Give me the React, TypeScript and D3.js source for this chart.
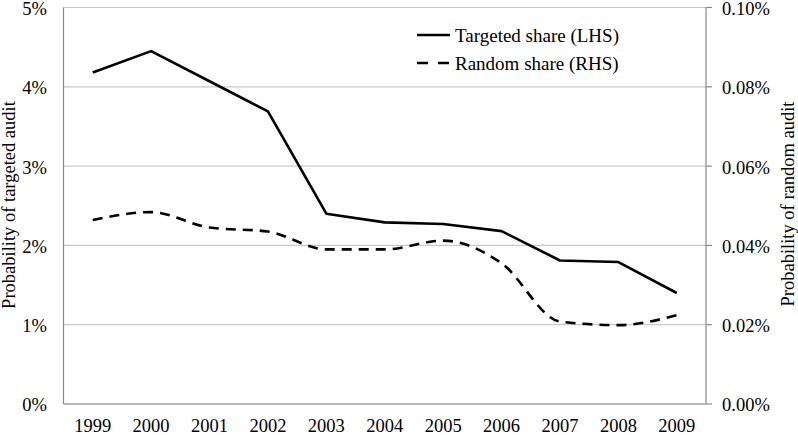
import React from "react";
import * as d3 from "d3";

const years = ["1999", "2000", "2001", "2002", "2003", "2004", "2005", "2006", "2007", "2008", "2009"];
const targetedShare = [4.18, 4.45, 4.07, 3.69, 2.4, 2.29, 2.27, 2.18, 1.81, 1.79, 1.4];
const randomShare = [0.0464, 0.0484, 0.0445, 0.0435, 0.039, 0.039, 0.0412, 0.0355, 0.0208, 0.0199, 0.0224];
const leftTicks = [0, 1, 2, 3, 4, 5];
const rightTicks = [0, 0.02, 0.04, 0.06, 0.08, 0.1];
const seriesNames = ["Targeted share (LHS)", "Random share (RHS)"];

const W = 798;
const H = 435;
const left = 63.5;
const right = 706;
const top = 7.5;
const bottom = 404;
const FONT = "'Liberation Serif', 'Times New Roman', serif";
const FS = 18.5;

export default function App() {
  const x = d3.scaleBand<string>().domain(years).range([left, right]);
  const yL = d3.scaleLinear().domain([0, 5]).range([bottom, top]);
  const yR = d3.scaleLinear().domain([0, 0.1]).range([bottom, top]);
  const cx = (y: string) => (x(y) as number) + x.bandwidth() / 2;

  const lineT = d3
    .line<number>()
    .x((_, i) => cx(years[i]))
    .y((d) => yL(d));
  const lineR = d3
    .line<number>()
    .x((_, i) => cx(years[i]))
    .y((d) => yR(d))
    .curve(d3.curveMonotoneX);

  return (
    <svg
      width={W}
      height={H}
      style={{ position: "absolute", left: 0, top: 0, background: "#fff" }}
      fontFamily={FONT}
    >
      <rect x={0} y={0} width={W} height={H} fill="#fff" />
      {leftTicks.map((t) => (
        <line key={"g" + t} x1={left} x2={right} y1={yL(t)} y2={yL(t)} stroke="#c8c8c8" strokeWidth={1.2} />
      ))}
      <line x1={left} x2={left} y1={top} y2={bottom} stroke="#8a8a8a" strokeWidth={1.2} />
      <line x1={left} x2={right} y1={bottom} y2={bottom} stroke="#8a8a8a" strokeWidth={1.2} />
      <line x1={right} x2={right} y1={top} y2={bottom} stroke="#8a8a8a" strokeWidth={1.2} />
      {rightTicks.map((t) => (
        <line key={"rt" + t} x1={right} x2={right + 6} y1={yR(t)} y2={yR(t)} stroke="#8a8a8a" strokeWidth={1.2} />
      ))}
      {leftTicks.map((t) => (
        <text key={"lt" + t} x={47} y={yL(t)} dy="0.4em" textAnchor="end" fontSize={FS} fill="#000">
          {t + "%"}
        </text>
      ))}
      {rightTicks.map((t) => (
        <text key={"rl" + t} x={722} y={yR(t)} dy="0.4em" textAnchor="start" fontSize={FS} fill="#000">
          {t.toFixed(2) + "%"}
        </text>
      ))}
      {years.map((yr) => (
        <text key={yr} x={cx(yr)} y={432} textAnchor="middle" fontSize={FS} fill="#000">
          {yr}
        </text>
      ))}
      <text
        transform={`translate(9, 205) rotate(-90)`}
        textAnchor="middle"
        dominantBaseline="central"
        fontSize={FS}
        fill="#000"
      >
        Probability of targeted audit
      </text>
      <text
        transform={`translate(788, 204) rotate(-90)`}
        textAnchor="middle"
        dominantBaseline="central"
        fontSize={FS}
        fill="#000"
      >
        Probability of random audit
      </text>
      <path d={lineT(targetedShare) || ""} fill="none" stroke="#000" strokeWidth={2.6} strokeLinejoin="round" />
      <path
        d={lineR(randomShare) || ""}
        fill="none"
        stroke="#000"
        strokeWidth={2.6}
        strokeDasharray="10,7"
      />
      <line x1={417} x2={450} y1={35} y2={35} stroke="#000" strokeWidth={2.6} />
      <text x={455} y={35} dy="0.38em" fontSize={19} fill="#000">
        {seriesNames[0]}
      </text>
      <line x1={417} x2={449} y1={63} y2={63} stroke="#000" strokeWidth={2.6} strokeDasharray="11,10" />
      <text x={455} y={63} dy="0.38em" fontSize={19} fill="#000">
        {seriesNames[1]}
      </text>
    </svg>
  );
}
